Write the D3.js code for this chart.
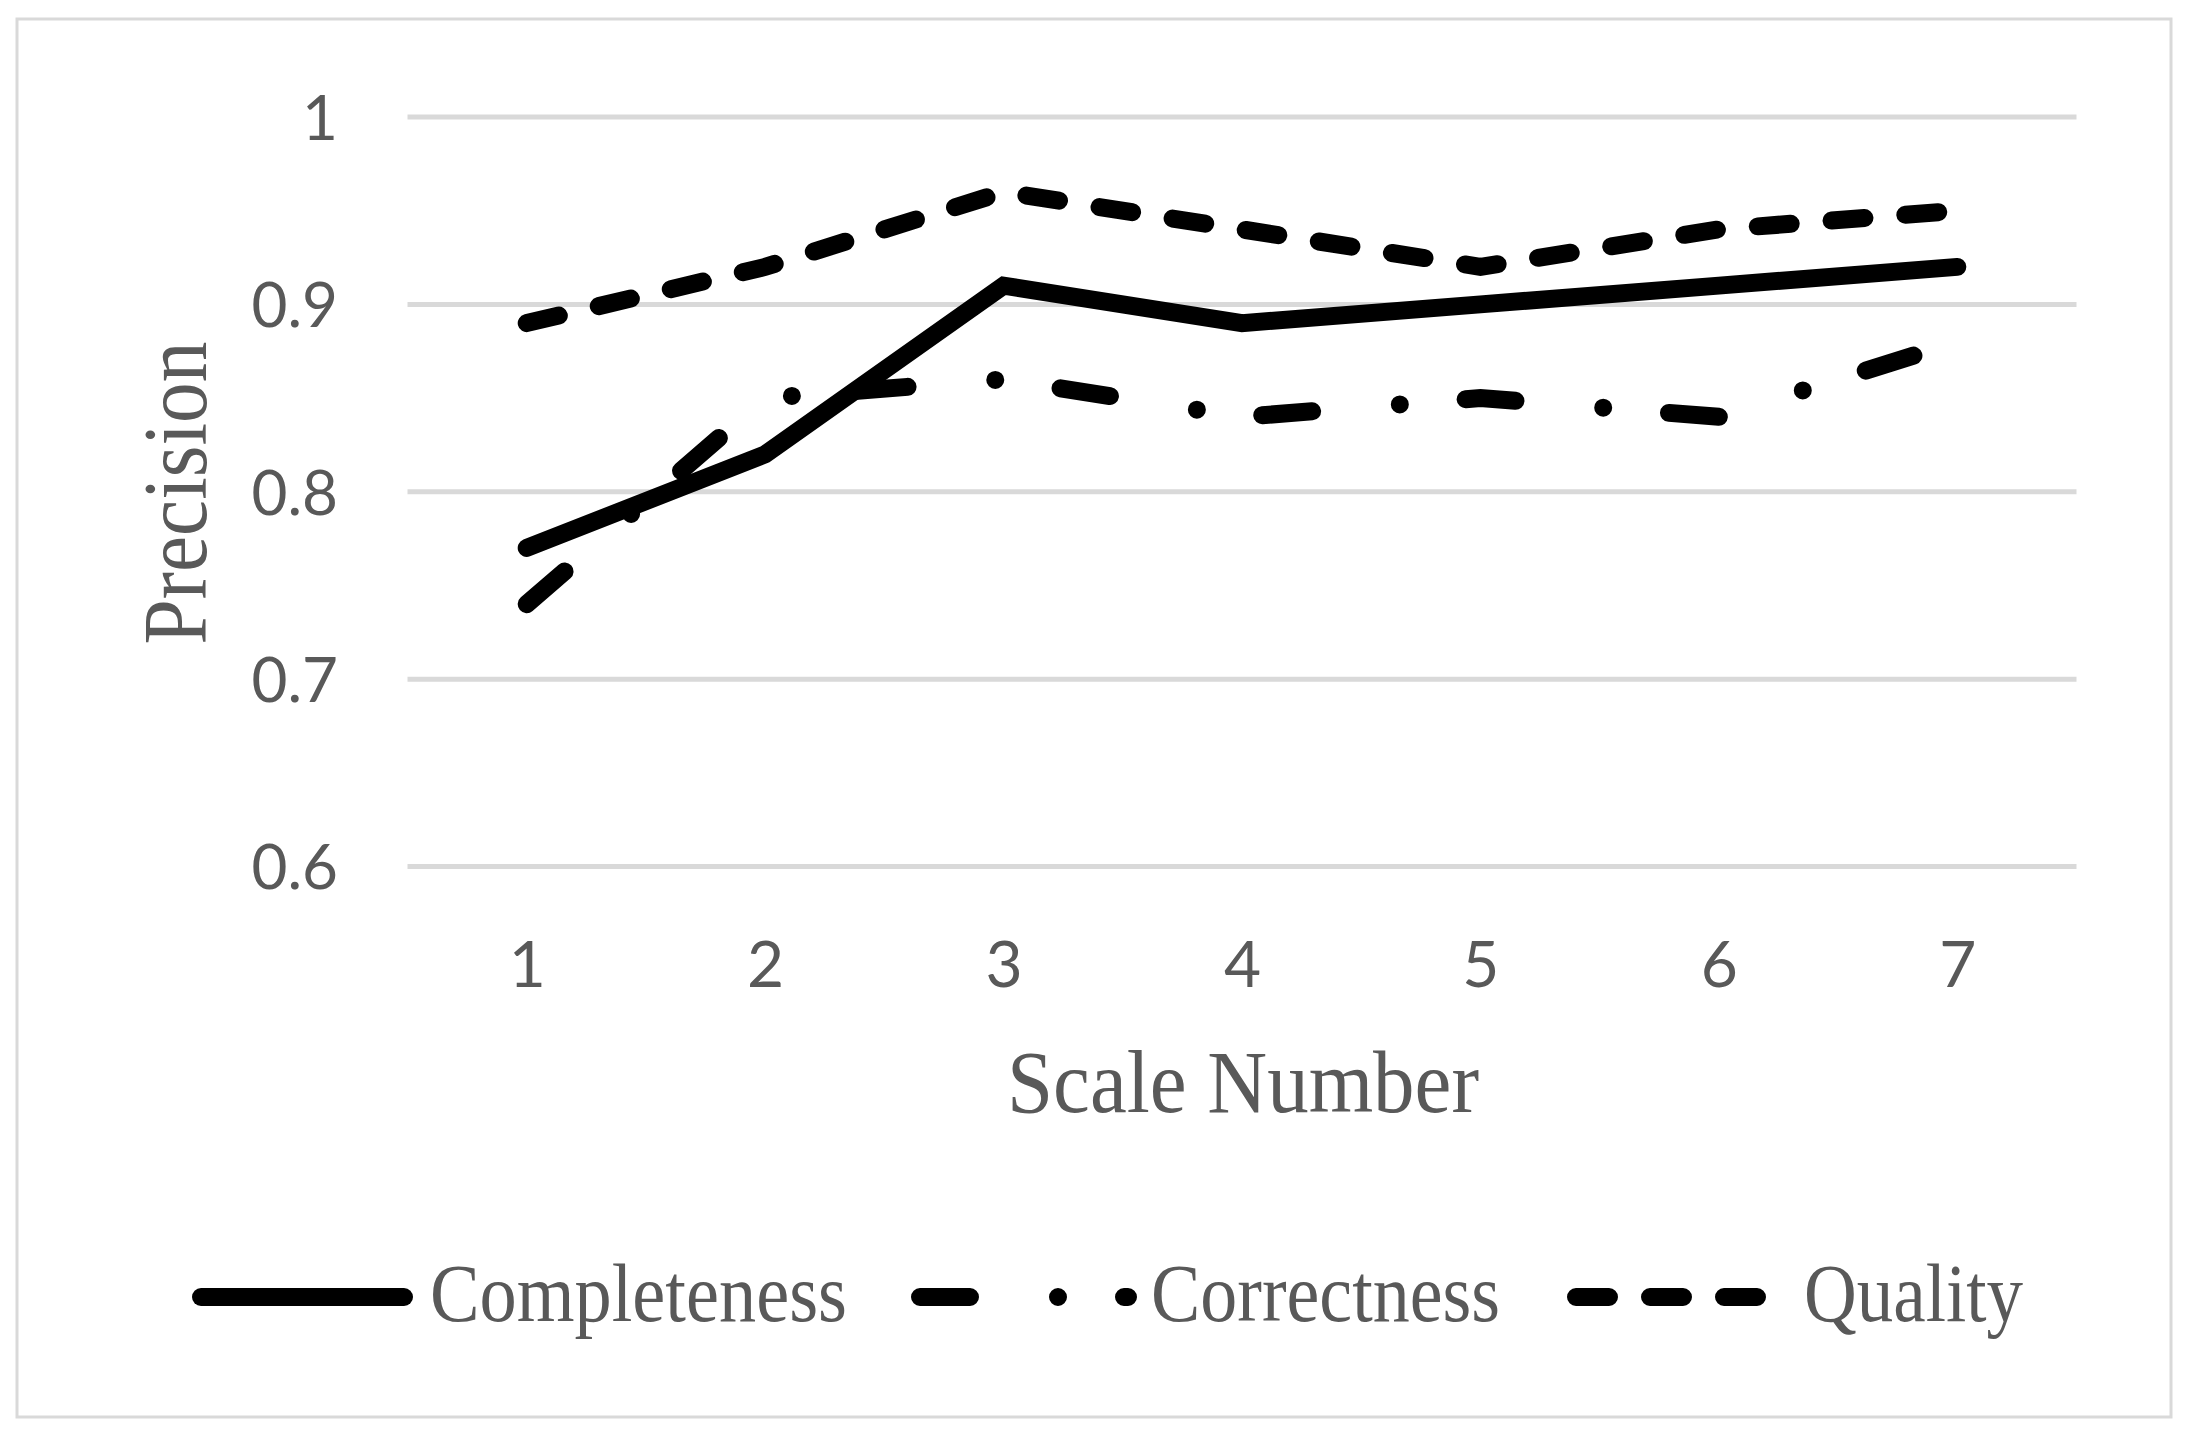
<!DOCTYPE html>
<html>
<head>
<meta charset="utf-8">
<script src="https://cdn.jsdelivr.net/npm/d3@7"></script>
<style>
  html, body { margin: 0; padding: 0; background: #fff; }
  svg { display: block; }
</style>
</head>
<body>
<svg id="chart" width="2188" height="1436"></svg>
<script>
// ---- data ----
const categories = ["1", "2", "3", "4", "5", "6", "7"];
const completeness = [0.77, 0.82, 0.91, 0.89, 0.90, 0.91, 0.92];
const correctness  = [0.74, 0.85, 0.86, 0.84, 0.85, 0.84, 0.88];
const quality      = [0.89, 0.92, 0.96, 0.94, 0.92, 0.94, 0.95];
const yTicks = [0.6, 0.7, 0.8, 0.9, 1.0];
const yTickLabels = ["0.6", "0.7", "0.8", "0.9", "1"];
const seriesNames = ["Completeness", "Correctness", "Quality"];
const xTitle = "Scale Number";
const yTitle = "Precision";

// ---- layout ----
const W = 2188, H = 1436;
const plot = { left: 407.5, right: 2076.5, top: 117, bottom: 866.5 };
const svg = d3.select("#chart");

svg.append("rect")
  .attr("x", 17).attr("y", 19).attr("width", W - 34).attr("height", H - 38)
  .attr("fill", "#fff").attr("stroke", "#d9d9d9").attr("stroke-width", 3);

const x = d3.scalePoint().domain(categories).range([plot.left, plot.right]).padding(0.5);
const y = d3.scaleLinear().domain([0.6, 1.0]).range([plot.bottom, plot.top]);

// gridlines
svg.append("g").selectAll("line").data(yTicks).join("line")
  .attr("x1", plot.left).attr("x2", plot.right)
  .attr("y1", d => y(d)).attr("y2", d => y(d))
  .attr("stroke", "#d9d9d9").attr("stroke-width", 5);

// y axis tick labels
const yAxis = d3.axisLeft(y).tickValues(yTicks)
  .tickFormat((d, i) => yTickLabels[i]).tickSize(0).tickPadding(0);
const gy = svg.append("g").attr("transform", `translate(${338},0)`).call(yAxis);
gy.select(".domain").remove();
gy.selectAll("text")
  .attr("font-family", "Lato, 'Open Sans', sans-serif")
  .attr("font-size", 62).attr("fill", "#595959")
  .attr("dy", "0.36em");

// x axis tick labels
const xAxis = d3.axisBottom(x).tickSize(0).tickPadding(0);
const gx = svg.append("g").attr("transform", `translate(0,${987})`).call(xAxis);
gx.select(".domain").remove();
gx.selectAll("text")
  .attr("font-family", "Lato, 'Open Sans', sans-serif")
  .attr("font-size", 64).attr("fill", "#595959")
  .attr("y", 0).attr("dy", 0);

// axis titles
svg.append("text")
  .attr("transform", `translate(206,493) rotate(-90)`)
  .attr("text-anchor", "middle")
  .attr("font-family", "'Liberation Serif', 'Times New Roman', serif")
  .attr("font-size", 90).attr("fill", "#595959")
  .attr("textLength", 303).attr("lengthAdjust", "spacingAndGlyphs")
  .text(yTitle);

svg.append("text")
  .attr("x", 1243).attr("y", 1112)
  .attr("text-anchor", "middle")
  .attr("font-family", "'Liberation Serif', 'Times New Roman', serif")
  .attr("font-size", 89).attr("fill", "#595959")
  .attr("textLength", 472).attr("lengthAdjust", "spacingAndGlyphs")
  .text(xTitle);

// series
const styles = [
  { data: completeness, dash: null },
  { data: correctness,  dash: "50,88,0,66" },
  { data: quality,      dash: "33,41" }
];
const line = d3.line().x((d, i) => x(categories[i])).y(d => y(d));
svg.append("g").selectAll("path").data(styles).join("path")
  .attr("d", s => line(s.data))
  .attr("fill", "none").attr("stroke", "#000").attr("stroke-width", 18)
  .attr("stroke-linecap", "round").attr("stroke-linejoin", "miter")
  .attr("stroke-dasharray", s => s.dash);

// legend
const legY = 1297;
const legend = [
  { x1: 201, x2: 404, dash: null, tx: 430, tl: 417 },
  { x1: 920, x2: 1128, dash: "50,88,0,66", tx: 1151, tl: 349 },
  { x1: 1576, x2: 1758, dash: "33,41", tx: 1804, tl: 219 }
];
const lg = svg.append("g");
lg.selectAll("line").data(legend).join("line")
  .attr("x1", d => d.x1).attr("x2", d => d.x2)
  .attr("y1", legY).attr("y2", legY)
  .attr("stroke", "#000").attr("stroke-width", 18)
  .attr("stroke-linecap", "round")
  .attr("stroke-dasharray", d => d.dash);
lg.selectAll("text").data(legend).join("text")
  .attr("x", d => d.tx).attr("y", 1321)
  .attr("font-family", "'Liberation Serif', 'Times New Roman', serif")
  .attr("font-size", 82).attr("fill", "#595959")
  .attr("textLength", d => d.tl).attr("lengthAdjust", "spacingAndGlyphs")
  .text((d, i) => seriesNames[i]);
</script>
</body>
</html>
